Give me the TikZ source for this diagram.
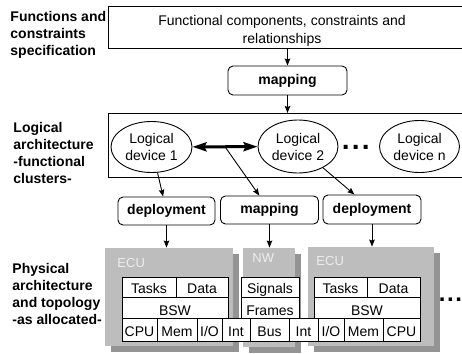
\documentclass[tikz,border=0pt]{standalone}
\usepackage{fontspec}
\setmainfont{Liberation Sans}
\usetikzlibrary{arrows.meta,shapes.geometric,shadows}
\definecolor{boxgray}{gray}{0.74}
\definecolor{shadowgray}{gray}{0.58}
\definecolor{labelgray}{gray}{0.93}
\begin{document}
\begin{tikzpicture}[x=1pt,y=-1pt,line width=0.9pt,
  every node/.style={inner sep=0pt},
  lbl/.style={font=\bfseries\fontsize{14}{17}\selectfont,align=left,anchor=north west},
  specbox/.style={draw,fill=white,anchor=north west},
  roundbox/.style={draw,rounded corners=5pt,fill=white,font=\bfseries\fontsize{14}{17}\selectfont},
  dev/.style={draw,ellipse,fill=white,align=center,font=\fontsize{14}{17}\selectfont},
  arr/.style={-{Stealth[length=7pt,width=5.5pt,inset=1pt]}},
  dbl/.style={{Stealth[length=14pt,width=9pt,inset=2pt]}-{Stealth[length=14pt,width=9pt,inset=2pt]},line width=3pt},
  hw/.style={fill=boxgray,drop shadow={shadow xshift=5.5pt,shadow yshift=-6pt,fill=shadowgray,opacity=1}},
  hwname/.style={text=labelgray,font=\fontsize{13}{15}\selectfont,anchor=base west},
  cellbox/.style={draw,fill=white,font=\fontsize{14}{17}\selectfont,text depth=0pt},
  rowa/.style={cellbox,text height=12pt,minimum height=20pt},
  rowb/.style={cellbox,text height=16pt,minimum height=21pt},
  rowc/.style={cellbox,text height=13pt,minimum height=23pt},
  dots/.style={font=\bfseries\fontsize{28}{30}\selectfont,anchor=base west},
  dotsr/.style={font=\bfseries\fontsize{24}{26}\selectfont,anchor=base west}
]
\clip (0,0) rectangle (462,353);

% left-hand captions
\node[lbl] (lab1) at (10,10.8) {Functions and\\constraints\\specification};
\node[lbl] (lab2) at (13,121.8) {Logical\\architecture\\-functional\\clusters-};
\node[lbl] (lab3) at (12,262.8) {Physical\\architecture\\and topology\\-as allocated-};

% specification level
\node[specbox,minimum width=360pt,minimum height=42pt] (spec) at (108,6) {};
\node[font=\fontsize{14}{18}\selectfont,align=center,anchor=north] (spectext) at (282,14.8)
  {Functional components, constraints and\\relationships};
\node[roundbox,minimum width=119pt,minimum height=29pt] (map1) at (287.5,80.5) {mapping};

% logical level
\node[specbox,minimum width=360pt,minimum height=64pt] (logic) at (108,113) {};
\node[dev,minimum width=81pt,minimum height=51pt] (dev1) at (151.5,147) {Logical\\device 1};
\node[dev,minimum width=80pt,minimum height=53pt] (dev2) at (298,146.5) {Logical\\device 2};
\node[dev,minimum width=80pt,minimum height=52pt] (devn) at (419.5,146.5) {Logical\\device n};
\node[dots] (dotsa) at (341.5,149) {.\kern2.2pt.\kern2.2pt.};

\draw[arr] (map1.north |- spec.south) -- (map1.north);
\draw[arr] (map1.south) -- (map1.south |- logic.north);
\draw[dbl] (dev1) -- coordinate[pos=0.5] (mid) (dev2);

% allocation level
\node[roundbox,minimum width=97pt,minimum height=28pt] (dep1) at (166.5,211) {deployment};
\node[roundbox,minimum width=98pt,minimum height=28pt] (map2) at (269.5,210) {mapping};
\node[roundbox,minimum width=98pt,minimum height=29pt] (dep2) at (372,209.5) {deployment};

\draw[arr] (dev1) -- (dep1);
\draw[arr] (mid) -- (map2);
\draw[arr] (dev2) -- (dep2);

% physical level
\node[hw,minimum width=128pt,minimum height=98pt] (ecu1) at (169,297) {};
\node[hw,minimum width=52pt,minimum height=99pt] (nw) at (269,297.5) {};
\node[hw,minimum width=126pt,minimum height=99pt] (ecu2) at (371,296.5) {};

\draw[arr] (dep1) -- (dep1 |- ecu1.north);
\draw[arr] (map2) -- (map2 |- nw.north);
\draw[arr] (dep2) -- (dep2 |- ecu2.north);

\node[hwname] (ecu1lbl) at (117,267) {ECU};
\node[hwname] (nwlbl) at (252,262) {NW};
\node[hwname] (ecu2lbl) at (316,265) {ECU};

% ECU 1 table
\node[rowa,minimum width=54pt] (e1t) at (149,287) {Tasks};
\node[rowa,minimum width=52pt] (e1d) at (202,287) {Data};
\node[rowb,minimum width=106pt] (e1b) at (175,307.5) {BSW};
\node[rowc,minimum width=35pt] (e1cpu) at (139.5,329.5) {CPU};
\node[rowc,minimum width=40pt] (e1mem) at (177,329.5) {Mem};
\node[rowc,minimum width=25pt] (e1io) at (209.5,329.5) {I/O};
\node[rowc,minimum width=28pt] (e1int) at (236,329.5) {Int};

% NW table
\node[rowa,minimum width=58pt] (nws) at (270,287) {Signals};
\node[rowb,minimum width=58pt] (nwf) at (270,307.5) {Frames};
\node[rowc,minimum width=39pt] (nwbus) at (269.5,329.5) {Bus};
\node[rowc,minimum width=29pt] (nwint) at (303.5,329.5) {Int};

% ECU 2 table
\node[rowa,minimum width=53pt] (e2t) at (340.5,287) {Tasks};
\node[rowa,minimum width=53pt] (e2d) at (393.5,287) {Data};
\node[rowb,minimum width=106pt] (e2b) at (367,307.5) {BSW};
\node[rowc,minimum width=26pt] (e2io) at (331,329.5) {I/O};
\node[rowc,minimum width=39pt] (e2mem) at (363.5,329.5) {Mem};
\node[rowc,minimum width=37pt] (e2cpu) at (401.5,329.5) {CPU};

\node[dotsr] (dotsb) at (438.5,301) {.\kern1.5pt.\kern1.5pt.};
\end{tikzpicture}
\end{document}
